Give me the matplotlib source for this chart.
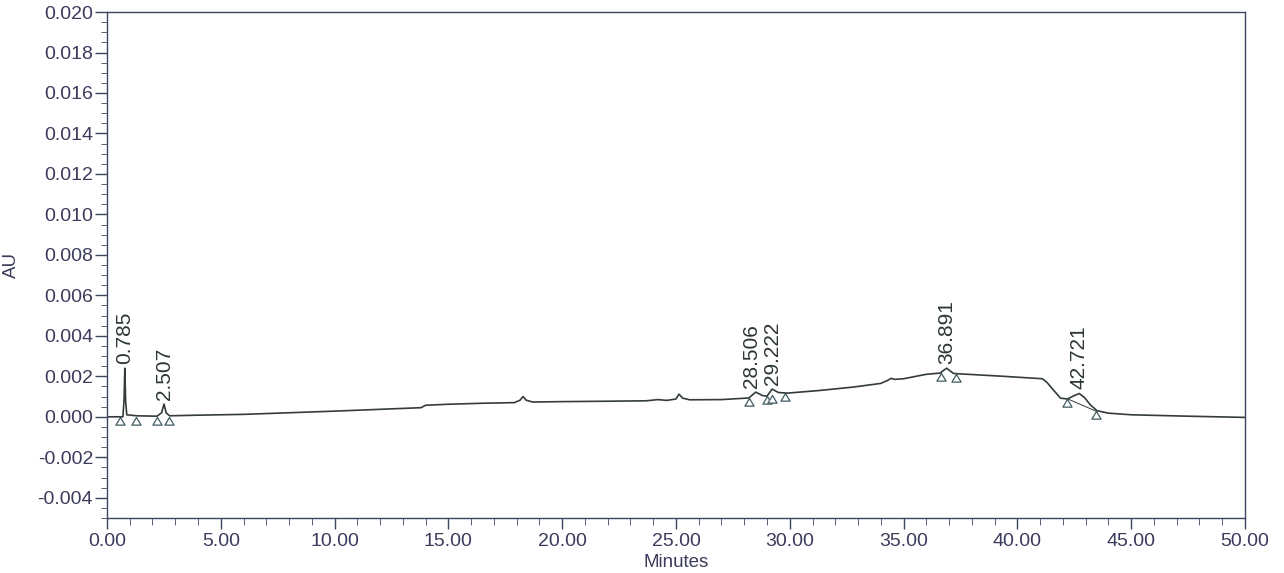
import matplotlib
matplotlib.use("Agg")
import matplotlib.pyplot as plt
from matplotlib.ticker import MultipleLocator, FormatStrFormatter

# chromatogram trace (minutes, AU)
time_min = [0.0, 0.5, 0.70, 0.75, 0.785, 0.82, 0.87, 1.3, 2.2, 2.4, 2.507, 2.6, 2.75,
            4.0, 6.0, 8.0, 10.0, 12.0, 13.8, 14.0, 15.0, 16.5, 17.9, 18.15, 18.28,
            18.42, 18.7, 20.0, 22.0, 23.7, 24.2, 24.6, 25.0, 25.13, 25.3, 25.6, 27.0,
            28.2, 28.506, 28.8, 29.0, 29.222, 29.5, 29.9, 31.3, 32.8, 34.0, 34.3,
            34.45, 34.6, 35.0, 36.0, 36.6, 36.891, 37.2, 37.5, 39.4, 41.1, 41.3,
            41.6, 41.9, 42.2, 42.5, 42.721, 42.95, 43.2, 43.5, 44.0, 45.0, 47.5, 50.0]
absorb = [0.0, 0.0, 0.0, 0.0008, 0.0024, 0.0008, 0.0001, 0.00005, 0.00003, 0.0002,
          0.00063, 0.0002, 0.00005, 0.00008, 0.00012, 0.0002, 0.00028, 0.00037,
          0.00045, 0.00057, 0.00062, 0.00067, 0.0007, 0.00082, 0.0010, 0.00082,
          0.00073, 0.00075, 0.00077, 0.00079, 0.00085, 0.00081, 0.00088, 0.00112,
          0.00092, 0.00084, 0.00085, 0.00093, 0.00122, 0.00105, 0.00102, 0.00137,
          0.0012, 0.00117, 0.0013, 0.00147, 0.00165, 0.0018, 0.0019, 0.00185,
          0.00188, 0.0021, 0.00216, 0.0024, 0.00214, 0.00212, 0.0020, 0.00188,
          0.0017, 0.0013, 0.00092, 0.00088, 0.00105, 0.00115, 0.00095, 0.0006,
          0.0003, 0.00018, 0.0001, 0.00003, -0.00003]

# integrated peaks
peak_times = [0.785, 2.507, 28.506, 29.222, 36.891, 42.721]
peak_au = [0.0024, 0.00063, 0.00122, 0.00137, 0.0024, 0.00115]
peak_labels = ["0.785", "2.507", "28.506", "29.222", "36.891", "42.721"]
# the two crowded labels at 28.5 / 29.2 are nudged apart a little
label_dx = [0, 0, -3, 0, 0, 0]

# peak start / end markers
mark_times = [0.57, 1.27, 2.2, 2.73, 28.2, 29.0, 29.2, 29.8, 36.65, 37.3, 42.18, 43.45]
mark_au = [0.0, 0.0, 0.0, 0.0, 0.00093, 0.00101, 0.00106, 0.00116, 0.00215,
           0.00213, 0.0009, 0.00028]

# drawn baseline under the last peak
base_times = [42.18, 43.45]
base_au = [0.0009, 0.00028]

TXT = "#3b3b5c"
AXC = "#3d4660"
FONT = ["Liberation Sans", "DejaVu Sans"]
LABEL_FONT = ["Liberation Sans Narrow", "Liberation Sans", "DejaVu Sans"]

fig = plt.figure(figsize=(12.84, 5.73), dpi=100)
ax = fig.add_axes([0.0833, 0.096, 0.8863, 0.883])

ax.plot(time_min, absorb, color="#333b3b", lw=1.2)
ax.plot(base_times, base_au, color="#333b3b", lw=0.7)

tri = [(0, 0), (-1.2, -2), (1.2, -2), (0, 0)]
ax.plot(mark_times, mark_au, linestyle="none", marker=tri, markersize=11,
        markerfacecolor="white", markeredgecolor="#3f5a60", markeredgewidth=0.9)

for t, a, lab, dx in zip(peak_times, peak_au, peak_labels, label_dx):
    ax.annotate(lab, (t, a), xytext=(dx, 3), textcoords="offset points",
                rotation=90, ha="center", va="bottom", fontsize=15,
                color="#2c3535", family=LABEL_FONT)

ax.set_xlim(0, 50)
ax.set_ylim(-0.005, 0.020)
ax.xaxis.set_major_locator(MultipleLocator(5))
ax.xaxis.set_minor_locator(MultipleLocator(1))
ax.yaxis.set_major_locator(MultipleLocator(0.002))
ax.yaxis.set_minor_locator(MultipleLocator(0.0005))
ax.xaxis.set_major_formatter(FormatStrFormatter("%.2f"))
ax.yaxis.set_major_formatter(FormatStrFormatter("%.3f"))

ax.tick_params(axis="both", which="major", colors=AXC, labelcolor=TXT,
               labelsize=14, width=1.0)
ax.tick_params(axis="x", which="major", length=8, pad=3)
ax.tick_params(axis="x", which="minor", length=5, color=AXC)
ax.tick_params(axis="y", which="major", length=9, pad=1)
ax.tick_params(axis="y", which="minor", length=4, color=AXC)
for lab in ax.get_xticklabels() + ax.get_yticklabels():
    lab.set_family(FONT)

for sp in ax.spines.values():
    sp.set_color(AXC)
    sp.set_linewidth(1.0)

ax.set_xlabel("Minutes", fontsize=13.5, color=TXT, family=FONT, labelpad=3)
ax.set_ylabel("AU", fontsize=13.5, color=TXT, family=FONT)
ax.yaxis.set_label_coords(-0.0765, 0.5)

fig.savefig("out.png", dpi=100)
